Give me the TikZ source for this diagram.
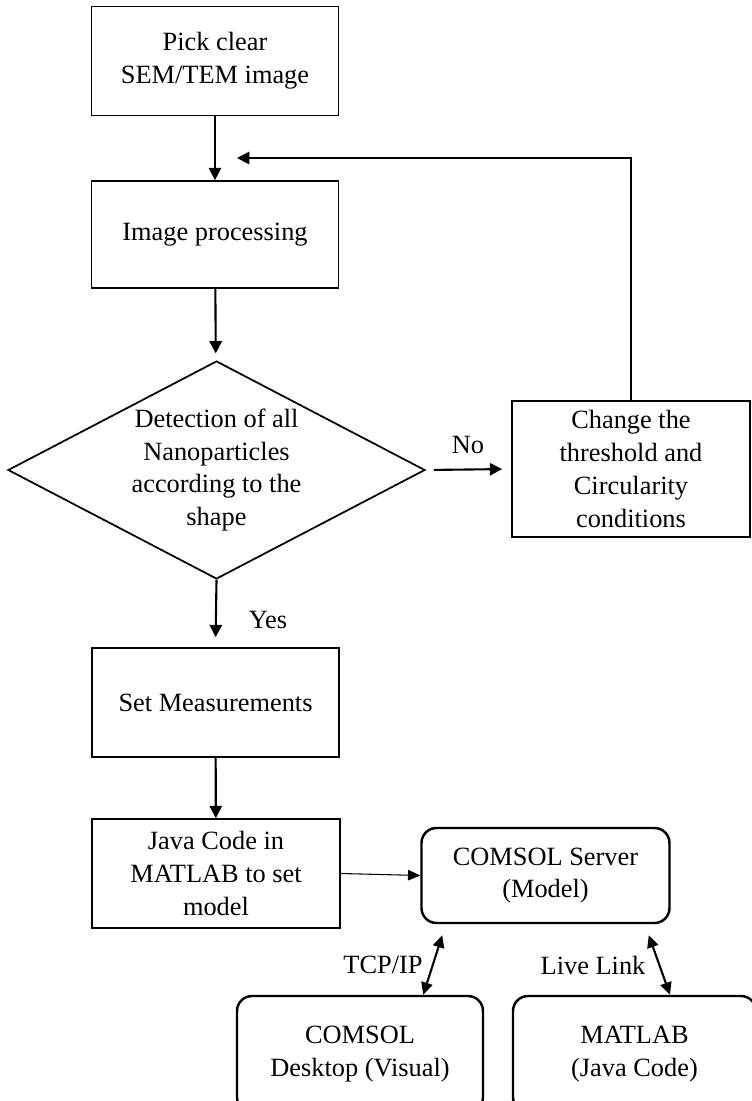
\documentclass[tikz,border=0pt]{standalone}
\usepackage{fontspec}
\setmainfont{Liberation Serif}
\usetikzlibrary{shapes.geometric,arrows.meta,calc}

\tikzset{
    box/.style={draw, line width=1pt, align=center, inner sep=0pt,
        minimum width=4.94cm, minimum height=2.18cm},
    decision/.style={draw, line width=1pt, diamond, inner sep=0pt,
        minimum width=8.34cm, minimum height=4.36cm},
    roundbox/.style={draw, line width=1.4pt, rounded corners=0.3cm,
        align=center, inner sep=0pt, minimum width=4.96cm, minimum height=1.9cm},
    flow/.style={line width=1.2pt, -{Triangle[length=7pt,width=7pt]}},
    thinflow/.style={line width=0.6pt, -{Triangle[length=7pt,width=6pt]}},
    link/.style={line width=1.2pt, {Triangle[length=7pt,width=6.5pt]}-{Triangle[length=7pt,width=6.5pt]}}
}

\begin{document}
\begin{tikzpicture}[font=\fontsize{15}{18.7}\selectfont]
    \clip (0,0) rectangle (15.04,-22.02);

    % Image steps
    \node[box] (pick) at (4.30,-1.22) {Pick clear\\SEM/TEM image};
    \node[box, minimum height=2.14cm] (proc) at (4.30,-4.69) {Image processing};

    % Decision
    \node[decision] (detect) at (4.33,-9.40) {};
    \node[align=center] (detecttext) at (detect) {Detection of all\\Nanoparticles\\according to the\\shape};
    \node[box, minimum width=4.76cm, minimum height=2.72cm] (change) at (12.62,-9.38)
        {Change the\\threshold and\\Circularity\\conditions};

    % Measurement and model
    \node[box] (measure) at (4.31,-14.05) {Set Measurements};
    \node[box, minimum width=4.96cm] (java) at (4.32,-17.47) {Java Code in\\MATLAB to set\\model};

    % COMSOL side
    \node[roundbox] (server) at (10.91,-17.51) {COMSOL Server\\(Model)};
    \node[roundbox, minimum width=4.92cm, minimum height=2.32cm] (desktop) at (7.20,-21.08)
        {COMSOL\\Desktop (Visual)};
    \node[roundbox, minimum width=4.86cm, minimum height=2.32cm] (matlab) at (12.69,-21.08)
        {MATLAB\\(Java Code)};

    % Main flow
    \draw[flow] (pick) -- (proc);
    \draw[flow, shorten >=0.14cm] (proc) -- (detect);
    \draw[flow, shorten <=0.16cm, shorten >=0.18cm] (detect.east) -- (change.west);
    \node (no) at (9.36,-8.90) {No};
    \draw[flow, shorten >=0.2cm] (detect.south) -- (measure.north);
    \node (yes) at (5.36,-12.40) {Yes};
    \draw[flow] (measure) -- (java);

    % Loop back
    \coordinate (back) at (4.74,-3.16);
    \draw[flow] (change.north) |- (back);

    % Links
    \draw[thinflow] (java.east) -- (server.west);
    \draw[link] ($(server.south west)+(0.44,-0.22)$) -- ($(desktop.north east)+(-1.22,0)$);
    \node (tcp) at (7.66,-19.30) {TCP/IP};
    \draw[link] ($(server.south east)+(-0.44,-0.22)$) -- ($(matlab.north)+(0.71,0)$);
    \node (live) at (11.86,-19.30) {Live Link};
\end{tikzpicture}
\end{document}
